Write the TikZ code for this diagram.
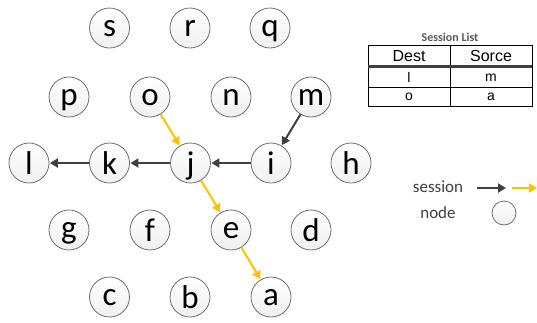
\documentclass[tikz,border=0pt]{standalone}
\usepackage{fontspec}
\setmainfont{Carlito}
\newfontfamily\tablefont{Liberation Sans}
\usetikzlibrary{arrows.meta}
\definecolor{arrowgray}{HTML}{404040}
\definecolor{arroworange}{HTML}{FFC000}
\definecolor{ringgray}{HTML}{6F6F6F}
\definecolor{textgray}{HTML}{404040}
\begin{document}
\begin{tikzpicture}[x=1pt,y=-1pt,
  peer/.style={circle,draw=ringgray,line width=0.8pt,top color=white,bottom color=black!6,
    minimum size=40pt,inner sep=0pt,font=\fontsize{33}{33}\selectfont,text depth=0pt},
  legendpeer/.style={circle,draw=ringgray,line width=0.8pt,top color=white,bottom color=black!6,
    minimum size=24pt,inner sep=0pt},
  sess/.style={draw=arrowgray,line width=2pt,-{Triangle[length=8pt,width=9pt]},shorten >=0.5pt},
  sessorange/.style={sess,draw=arroworange,-{Triangle[length=8pt,width=9pt,fill=arroworange]}},
  cell/.style={font=\tablefont\fontsize{14}{14}\selectfont,anchor=center},
  head/.style={font=\tablefont\fontsize{16}{16}\selectfont,anchor=center},
  legendtext/.style={font=\fontsize{17}{17}\selectfont,text=textgray}
]
\useasboundingbox (0,0) rectangle (537,322);

% network nodes
\node[peer] (s) at (109.5,28) {s};
\node[peer] (r) at (190,28) {r};
\node[peer] (q) at (270,28) {q};
\node[peer] (p) at (69,97) {p};
\node[peer] (o) at (150,97) {o};
\node[peer] (n) at (231,97) {n};
\node[peer] (m) at (311,97) {m};
\node[peer] (l) at (29,163) {l};
\node[peer] (k) at (109.5,163) {k};
\node[peer] (j) at (190.5,163) {j};
\node[peer] (i) at (271,163) {i};
\node[peer] (h) at (351,163) {h};
\node[peer] (g) at (69,230) {g};
\node[peer] (f) at (150,230) {f};
\node[peer] (e) at (231,230) {e};
\node[peer] (d) at (311,230) {d};
\node[peer] (c) at (109.5,297) {c};
\node[peer] (b) at (190,297) {b};
\node[peer] (a) at (271,297) {a};

% sessions
\draw[sess] (m) -- (i);
\draw[sess] (i) -- (j);
\draw[sess] (j) -- (k);
\draw[sess] (k) -- (l);
\draw[sessorange] (o) -- (j);
\draw[sessorange] (j) -- (e);
\draw[sessorange] (e) -- (a);

% session list table
\node[font=\bfseries\fontsize{12}{12}\selectfont,text=black!65] (title) at (450,37) {Session List};
\coordinate (tl) at (368,45);
\coordinate (br) at (532,106);
\draw[black,line width=0.8pt] (tl) rectangle (br);
\draw[black,line width=0.8pt] (450,45) -- (450,106);
\draw[black!75,line width=2.6pt] (368,66.5) -- (532,66.5);
\draw[black,line width=0.8pt] (368,87) -- (532,87);
\node[head] (dest) at (409,56) {Dest};
\node[head] (sorce) at (491,56) {Sorce};
\node[cell] (r1a) at (409,77.5) {l};
\node[cell] (r1b) at (491,77.5) {m};
\node[cell] (r2a) at (409,96.5) {o};
\node[cell] (r2b) at (491,96.5) {a};

% legend
\node[legendtext] (lsess) at (438,187) {session};
\node[legendtext] (lnode) at (438,213) {node};
\coordinate (d0) at (477,188);
\coordinate (d1) at (506,188);
\coordinate (o0) at (512,188);
\coordinate (o1) at (537,188);
\draw[sess,shorten >=0pt] (d0) -- (d1);
\draw[sessorange,shorten >=0pt] (o0) -- (o1);
\node[legendpeer] (lpeer) at (504,213) {};
\end{tikzpicture}
\end{document}
